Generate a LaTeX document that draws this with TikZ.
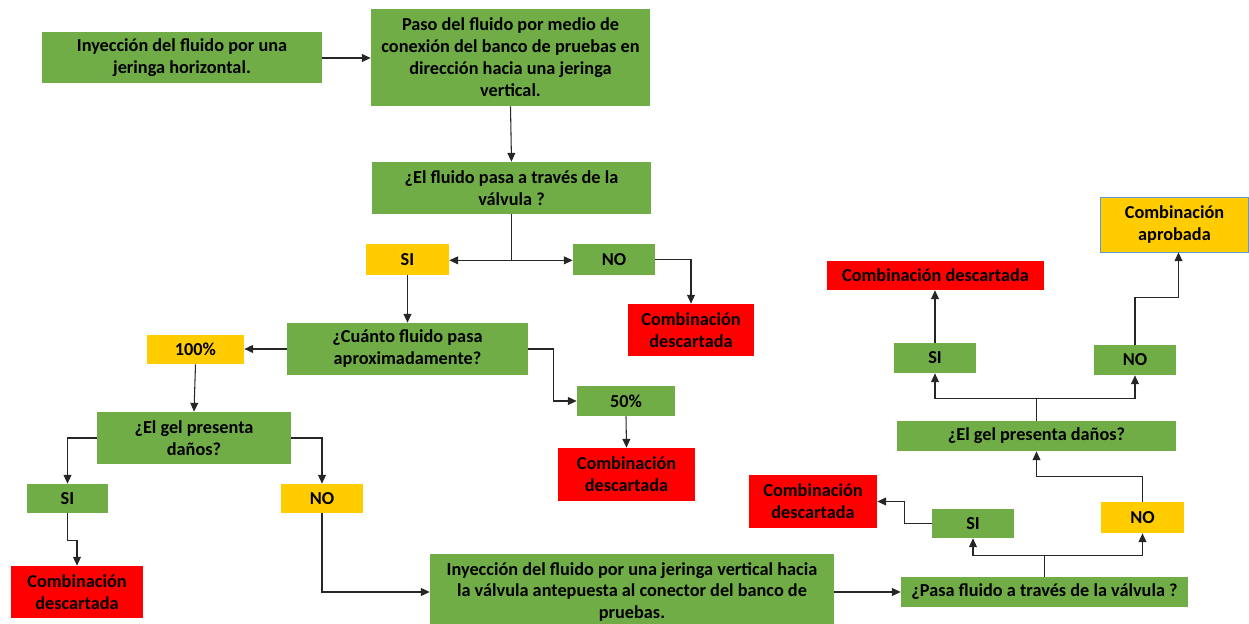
\documentclass[tikz,border=0pt]{standalone}
\usepackage{fontspec}
\setmainfont{Carlito}
\usetikzlibrary{arrows.meta}

\definecolor{boxgreen}{HTML}{70AD47}
\definecolor{boxyellow}{HTML}{FFCC00}
\definecolor{boxred}{HTML}{FF0000}
\definecolor{boxblue}{HTML}{5B9BD5}

\tikzset{
	box/.style={inner sep=0pt, align=center, font=\bfseries\fontsize{10.4}{12.5}\selectfont},
	greenbox/.style={box, fill=boxgreen},
	yellowbox/.style={box, fill=boxyellow},
	redbox/.style={box, fill=boxred},
	arr/.style={-{Triangle[length=5pt,width=4.5pt]}, line width=0.6pt, draw=black!85},
	ln/.style={line width=0.6pt, draw=black!85}
}

\begin{document}
\begin{tikzpicture}[x=0.02cm, y=-0.02cm]
		\useasboundingbox (0,0) rectangle (1249,624);
		
		% left branch
		\node [greenbox, minimum width=5.6cm, minimum height=1.02cm] (A) at (182,58) {Inyección del fluido por una\\ jeringa horizontal.};
		\node [greenbox, minimum width=5.58cm, minimum height=1.94cm] (B) at (510.5,57.5) {Paso del fluido por medio de\\ conexión del banco de pruebas en\\ dirección hacia una jeringa\\ vertical.};
		\node [greenbox, minimum width=5.58cm, minimum height=1.04cm] (C) at (511.5,188) {¿El fluido pasa a través de la\\ válvula ?};
		
		\node [yellowbox, minimum width=1.66cm, minimum height=0.62cm] (si1) at (407.5,259.5) {SI};
		\node [greenbox, minimum width=1.64cm, minimum height=0.62cm] (no1) at (614,259.5) {NO};
		\node [redbox, minimum width=2.52cm, minimum height=1.04cm] (red1) at (691,330) {Combinación\\ descartada};
		
		\node [greenbox, minimum width=4.82cm, minimum height=1.04cm] (D) at (407.5,349) {¿Cuánto fluido pasa\\ aproximadamente?};
		\node [yellowbox, minimum width=1.94cm, minimum height=0.58cm] (p100) at (195.5,349.5) {100\%};
		\node [greenbox, minimum width=1.96cm, minimum height=0.6cm] (p50) at (626,401) {50\%};
		\node [redbox, minimum width=2.74cm, minimum height=1.06cm] (red2) at (626.5,474.5) {Combinación\\ descartada};
		
		\node [greenbox, minimum width=3.88cm, minimum height=1.04cm] (E) at (194,438) {¿El gel presenta\\ daños?};
		\node [greenbox, minimum width=1.62cm, minimum height=0.58cm] (si2) at (67.5,498.5) {SI};
		\node [yellowbox, minimum width=1.64cm, minimum height=0.58cm] (no2) at (322,498.5) {NO};
		\node [redbox, minimum width=2.64cm, minimum height=1.04cm] (red3) at (77,592) {Combinación\\ descartada};
		
		% bottom and right branch
		\node [greenbox, minimum width=8.08cm, minimum height=1.52cm] (F) at (632,592) {Inyección del fluido por una jeringa vertical hacia\\ la válvula antepuesta al conector del banco de\\ pruebas.};
		\node [greenbox, minimum width=5.74cm, minimum height=0.6cm] (G) at (1044.5,592) {¿Pasa fluido a través de la válvula ?};
		\node [greenbox, minimum width=1.64cm, minimum height=0.58cm] (si3) at (973,523.5) {SI};
		\node [yellowbox, minimum width=1.66cm, minimum height=0.62cm] (no3) at (1142.5,517.5) {NO};
		\node [redbox, minimum width=2.56cm, minimum height=1.06cm] (red4) at (813,501.5) {Combinación\\ descartada};
		
		\node [greenbox, minimum width=5.58cm, minimum height=0.6cm] (H) at (1036.5,436) {¿El gel presenta daños?};
		\node [greenbox, minimum width=1.64cm, minimum height=0.6cm] (si4) at (935,358) {SI};
		\node [greenbox, minimum width=1.64cm, minimum height=0.6cm] (no4) at (1135,360) {NO};
		\node [redbox, minimum width=4.34cm, minimum height=0.58cm] (red5) at (935.5,275.5) {Combinación descartada};
		\node [yellowbox, draw=boxblue, line width=0.5pt, minimum width=2.96cm, minimum height=1.1cm] (aprob) at (1174.5,224.5) {Combinación\\ aprobada};
		
		% connectors
		\draw [arr] (A.east) -- (A.east -| B.west);
		\draw [arr] (B.south) -- (C.north);
		
		\draw [ln] (C.south) -- ++(0,46) coordinate (c1);
		\draw [arr] (c1) -- (c1 -| si1.east);
		\draw [arr] (c1) -- (c1 -| no1.west);
		\draw [arr] (no1.east) -| (red1.north);
		\draw [arr] (si1.south) -- (D.north);
		
		\draw [arr] (D.west) -- (D.west -| p100.east);
		\draw [arr] (D.east) -- ++(25,0) |- (p50.west);
		\draw [arr] (p50.south) -- (red2.north);
		\draw [arr] (p100.south) -- (E.north);
		
		\draw [arr] (E.west) -| (si2.north);
		\draw [arr] (E.east) -| (no2.north);
		\draw [arr] (si2.south) -- ++(0,27) -| (red3.north);
		\draw [arr] (no2.south) |- (F.west);
		\draw [arr] (F.east) -- (F.east -| G.west);
		
		\draw [ln] (G.north) -- ++(0,-21) coordinate (g1);
		\draw [arr] (g1) -| (si3.south);
		\draw [arr] (g1) -| (no3.south);
		\draw [arr] (si3.west) -- ++(-27,0) |- (red4.east);
		\draw [arr] (no3.north) -- ++(0,-25) -| (H.south);
		
		\draw [ln] (H.north) -- ++(0,-22) coordinate (h1);
		\draw [arr] (h1) -| (si4.south);
		\draw [arr] (h1) -| (no4.south);
		\draw [arr] (si4.north) -- (si4.north |- red5.south);
		\draw [arr] (no4.north) -- ++(0,-47) -| ([xshift=0.08cm]aprob.south);
		
		
		\end{tikzpicture}
\end{document}
